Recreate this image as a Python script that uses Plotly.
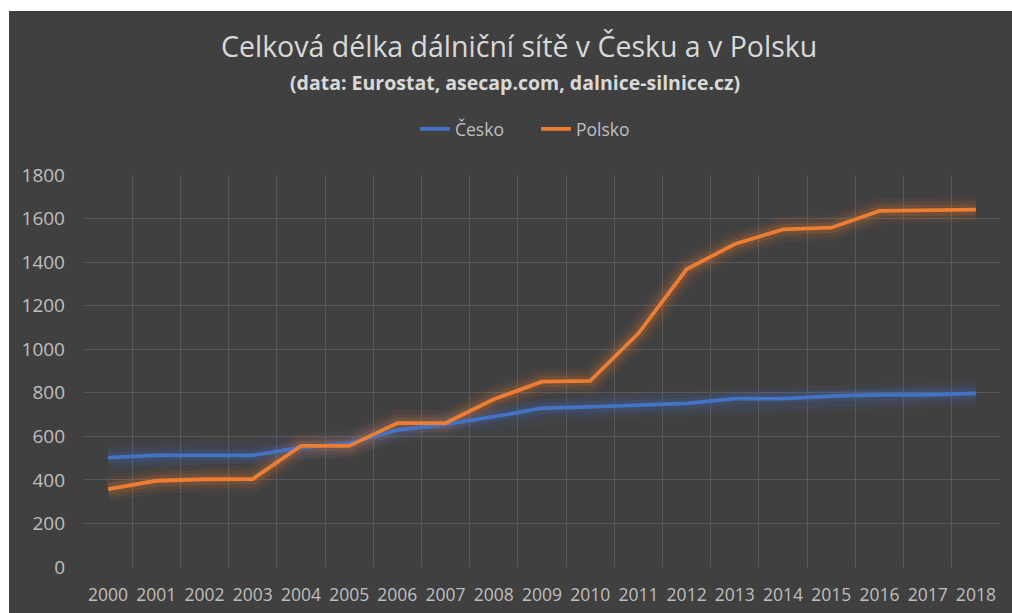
import plotly.graph_objects as go

years = [str(y) for y in range(2000, 2019)]
cesko = [502, 513, 513, 513, 548, 568, 629, 655, 690, 729, 735, 744, 751, 773, 773, 785, 791, 791, 797]
polsko = [358, 396, 403, 404, 556, 556, 661, 661, 770, 851, 855, 1073, 1367, 1483, 1550, 1558, 1635, 1639, 1641]
y_ticks = [0, 200, 400, 600, 800, 1000, 1200, 1400, 1600, 1800]

title_text = "Celková délka dálniční sítě v Česku a v Polsku"
subtitle_text = "(data: Eurostat, asecap.com, dalnice-silnice.cz)"

BG = "#404040"
BLUE = "#4472C4"
ORANGE = "#ED7D31"
FONT = "Open Sans"

fig = go.Figure()

series = [("Česko", cesko, BLUE, "rgba(68,114,196,{a})"), ("Polsko", polsko, ORANGE, "rgba(237,125,49,{a})")]

# glow layers
for name, vals, col, rgba in series:
    for w, a in [(26, 0.06), (18, 0.09), (11, 0.15)]:
        fig.add_trace(go.Scatter(x=years, y=vals, mode="lines",
                                 line=dict(color=rgba.format(a=a), width=w),
                                 showlegend=False, hoverinfo="skip"))
for name, vals, col, rgba in series:
    fig.add_trace(go.Scatter(x=years, y=vals, mode="lines", name=name,
                             line=dict(color=col, width=3.8)))

fig.update_layout(
    width=1012, height=613,
    autosize=False,
    margin=dict(l=84, r=12, t=175, b=46, pad=0, autoexpand=False),
    paper_bgcolor="white",
    plot_bgcolor=BG,
    font=dict(family=FONT, color="#bfbfbf"),
    showlegend=True,
    legend=dict(orientation="h", x=(536 - 84) / 916, xanchor="center", y=(567 - 129) / 392, yanchor="middle",
                font=dict(size=17.5, color="#bfbfbf", family=FONT), bgcolor="rgba(0,0,0,0)",
                itemwidth=30, entrywidth=76),
    shapes=[dict(type="rect", xref="paper", yref="paper",
                 x0=(9 - 84) / 916, x1=(1012 - 84) / 916 + 0.01,
                 y0=(567 - 613) / 392 - 0.01, y1=(567 - 11) / 392,
                 fillcolor=BG, line=dict(width=0), layer="below")],
    annotations=[
        dict(text=title_text, x=(519 - 84) / 916, y=(567 - 46) / 392, xref="paper", yref="paper",
             showarrow=False, xanchor="center", yanchor="middle",
             font=dict(size=28.5, color="#d9d9d9", family=FONT)),
        dict(text="<b>" + subtitle_text + "</b>", x=(515 - 84) / 916, y=(567 - 82) / 392,
             xref="paper", yref="paper", showarrow=False, xanchor="center", yanchor="middle",
             font=dict(size=19.5, color="#d9d9d9", family=FONT)),
    ],
)

fig.update_xaxes(type="category", tickson="boundaries", range=[-0.5, len(years) - 0.5],
                 showgrid=True, gridcolor="#595959",
                 gridwidth=1, showline=False, zeroline=False, ticks="",
                 tickangle=0, automargin=False,
                 tickfont=dict(size=17.5, color="#bfbfbf", family=FONT),
                 ticklabelstandoff=15)
fig.update_yaxes(range=[0, 1800], tickvals=y_ticks, showgrid=True, gridcolor="#595959",
                 gridwidth=1, zeroline=False, showline=False, ticks="", automargin=False,
                 tickfont=dict(size=19, color="#bfbfbf", family=FONT),
                 ticklabelstandoff=18)

fig.write_html("out.html", config={"displayModeBar": False},
               post_script="document.body.style.margin='0';document.body.style.overflow='hidden';")
